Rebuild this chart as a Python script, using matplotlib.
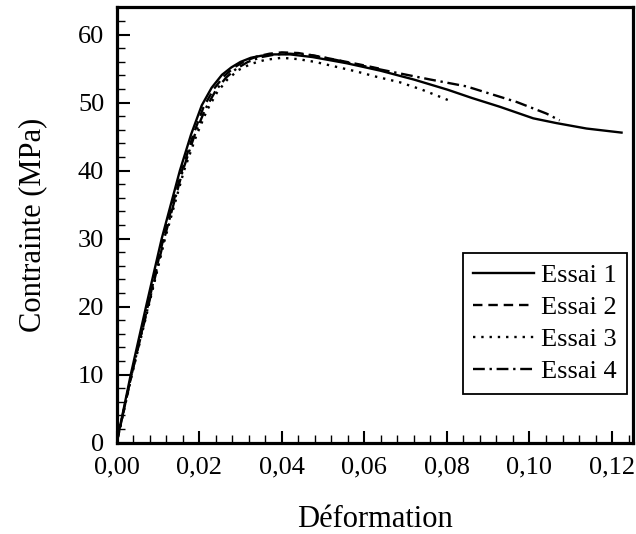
import matplotlib
matplotlib.use("Agg")
import matplotlib.pyplot as plt
from matplotlib.ticker import MultipleLocator, FuncFormatter

plt.rcParams['font.family'] = 'serif'
plt.rcParams['font.serif'] = ['Liberation Serif', 'DejaVu Serif']

# Essai 1 (solid)
eps1 = [0, 0.0034, 0.0071, 0.0109, 0.0153, 0.0180, 0.0206, 0.0230, 0.0255, 0.0278,
        0.0300, 0.0325, 0.0350, 0.0380, 0.0420, 0.0475, 0.0557, 0.0639, 0.0720,
        0.0802, 0.0860, 0.0928, 0.1009, 0.1065, 0.1138, 0.1223]
sig1 = [0, 10, 20, 30, 40, 45.3, 49.6, 52.2, 54.1, 55.2,
        56.0, 56.6, 56.9, 57.1, 57.1, 56.7, 55.8, 54.7, 53.4,
        51.9, 50.7, 49.4, 47.7, 47.0, 46.2, 45.6]

# Essai 2 (dashed)
eps2 = [0, 0.0036, 0.0075, 0.0113, 0.0158, 0.0185, 0.0210, 0.0235, 0.0260, 0.0285,
        0.0310, 0.0340, 0.0370, 0.0400, 0.0440, 0.0490, 0.0540, 0.0590, 0.0637]
sig2 = [0, 10, 20, 30, 40, 45.2, 49.3, 52.0, 53.9, 55.2,
        56.1, 56.8, 57.2, 57.4, 57.3, 56.8, 56.2, 55.6, 55.0]

# Essai 3 (dotted)
eps3 = [0, 0.0037, 0.0077, 0.0117, 0.0163, 0.0192, 0.0218, 0.0243, 0.0268, 0.0295,
        0.0325, 0.0360, 0.0400, 0.0440, 0.0480, 0.0530, 0.0580, 0.0630, 0.0686,
        0.0740, 0.0790, 0.0802]
sig3 = [0, 10, 20, 30, 40, 45.0, 48.8, 51.5, 53.4, 54.8,
        55.7, 56.3, 56.6, 56.4, 56.0, 55.3, 54.6, 53.8, 53.0,
        51.9, 50.7, 50.4]

# Essai 4 (dash-dot)
eps4 = [0, 0.0036, 0.0076, 0.0115, 0.0160, 0.0188, 0.0214, 0.0240, 0.0265, 0.0290,
        0.0318, 0.0350, 0.0385, 0.0420, 0.0470, 0.0530, 0.0590, 0.0637, 0.0686,
        0.0760, 0.0847, 0.0969, 0.1041, 0.1073]
sig4 = [0, 10, 20, 30, 40, 45.1, 49.0, 51.8, 53.7, 55.0,
        56.0, 56.7, 57.1, 57.2, 57.0, 56.3, 55.5, 54.9, 54.3,
        53.4, 52.4, 50.1, 48.4, 47.4]

labels = ["Essai 1", "Essai 2", "Essai 3", "Essai 4"]

fig = plt.figure(figsize=(6.36, 5.34), dpi=100)
ax = fig.add_axes([0.1835, 0.171, 0.8113, 0.815])

lw = 1.7
ax.plot(eps1, sig1, color='black', lw=lw, ls='-', label=labels[0])
ax.plot(eps2, sig2, color='black', lw=lw, ls=(0, (4, 2.5)), label=labels[1])
ax.plot(eps3, sig3, color='black', lw=lw, ls=(0, (1, 2.5)), label=labels[2])
ax.plot(eps4, sig4, color='black', lw=lw, ls=(0, (5, 2, 1, 2)), label=labels[3])

ax.set_xlim(0, 0.125)
ax.set_ylim(0, 64)
ax.xaxis.set_major_locator(MultipleLocator(0.02))
ax.xaxis.set_minor_locator(MultipleLocator(0.004))
ax.yaxis.set_major_locator(MultipleLocator(10))
ax.yaxis.set_minor_locator(MultipleLocator(2))
ax.xaxis.set_major_formatter(FuncFormatter(lambda v, p: f"{v:.2f}".replace('.', ',')))
ax.yaxis.set_major_formatter(FuncFormatter(lambda v, p: f"{v:.0f}"))

ax.tick_params(which='both', direction='in', top=False, right=False, labelsize=19, colors='black')
ax.tick_params(which='major', length=9, width=1.5)
ax.tick_params(axis='y', which='major', pad=9)
ax.tick_params(axis='x', which='major', pad=10)
ax.tick_params(which='minor', length=5.5, width=1.0)
for s in ax.spines.values():
    s.set_linewidth(2.3)
    s.set_color('black')

ax.set_xlabel("Déformation", fontsize=22, labelpad=19)
ax.set_ylabel("Contrainte (MPa)", fontsize=22, labelpad=22)

leg = ax.legend(loc='lower right', bbox_to_anchor=(0.989, 0.112), fontsize=19,
                frameon=True, fancybox=False, edgecolor='black', framealpha=1,
                handlelength=2.3, handletextpad=0.25, borderpad=0.4, labelspacing=0.33,
                borderaxespad=0)
leg.get_frame().set_linewidth(1.3)

fig.savefig("out.png", dpi=100)
